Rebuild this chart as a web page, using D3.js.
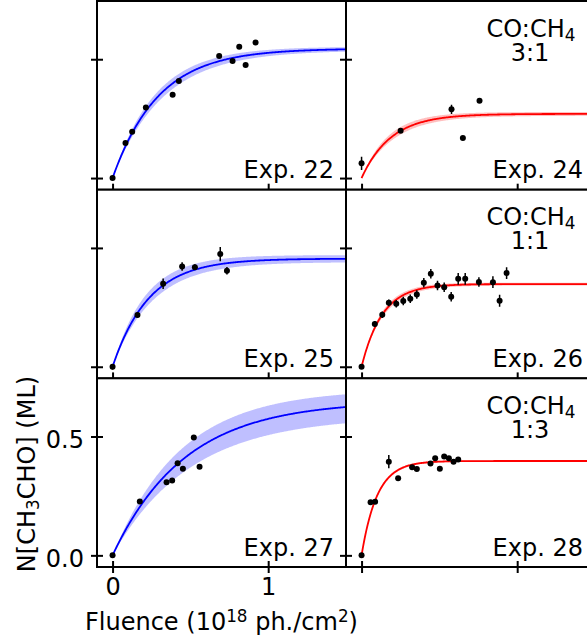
<!DOCTYPE html>
<html><head><meta charset="utf-8">
<script src="https://cdn.jsdelivr.net/npm/d3@7"></script>
<style>body{margin:0;background:#fff}svg{display:block}text{font-family:"DejaVu Sans",sans-serif;fill:#000}</style>
</head><body><svg id="c" width="587" height="643"></svg>
<script>
// ---- data ----
const expLabels = ["Exp. 22", "Exp. 24", "Exp. 25", "Exp. 26", "Exp. 27", "Exp. 28"];
const ratioLabels = ["3:1", "1:1", "1:3"];

const exp22X = [0, 0.083, 0.126, 0.214, 0.386, 0.426, 0.685, 0.771, 0.814, 0.855, 0.919];
const exp22Y = [0, 0.148, 0.195, 0.297, 0.350, 0.408, 0.514, 0.493, 0.553, 0.476, 0.570];
const exp22Err = [0.004, 0.005, 0.005, 0.005, 0.006, 0.006, 0.006, 0.006, 0.006, 0.006, 0.006];

const exp24X = [0, 0.251, 0.578, 0.651, 0.758];
const exp24Y = [0.062, 0.199, 0.289, 0.169, 0.325];
const exp24Err = [0.028, 0.008, 0.019, 0.008, 0.008];

const exp25X = [0, 0.160, 0.325, 0.447, 0.529, 0.692, 0.735];
const exp25Y = [0, 0.218, 0.349, 0.422, 0.419, 0.474, 0.404];
const exp25Err = [0.012, 0.012, 0.022, 0.018, 0.012, 0.03, 0.016];

const exp26X = [0, 0.085, 0.133, 0.175, 0.223, 0.268, 0.313, 0.355, 0.400, 0.445, 0.488, 0.531, 0.576, 0.621, 0.666, 0.754, 0.844, 0.887, 0.932];
const exp26Y = [0, 0.180, 0.219, 0.269, 0.265, 0.277, 0.286, 0.304, 0.353, 0.391, 0.342, 0.335, 0.295, 0.370, 0.370, 0.357, 0.356, 0.278, 0.394];
const exp26Err = [0.008, 0.012, 0.014, 0.014, 0.016, 0.018, 0.018, 0.018, 0.02, 0.02, 0.02, 0.02, 0.02, 0.025, 0.025, 0.02, 0.025, 0.025, 0.025];

const exp27X = [0, 0.175, 0.347, 0.383, 0.418, 0.452, 0.522, 0.559];
const exp27Y = [0, 0.227, 0.308, 0.315, 0.388, 0.364, 0.496, 0.373];
const exp27Err = [0.004, 0.006, 0.006, 0.008, 0.006, 0.006, 0.006, 0.006];

const exp28X = [0, 0.058, 0.087, 0.175, 0.235, 0.325, 0.355, 0.443, 0.473, 0.503, 0.531, 0.561, 0.591, 0.621];
const exp28Y = [0, 0.223, 0.226, 0.394, 0.324, 0.371, 0.363, 0.387, 0.409, 0.364, 0.416, 0.409, 0.394, 0.403];
const exp28Err = [0.004, 0.008, 0.008, 0.028, 0.008, 0.008, 0.008, 0.008, 0.008, 0.008, 0.008, 0.008, 0.008, 0.008];

// fitted saturation curves N = A (1 - exp(-k F)), and the band limits
const fitAmp    = [0.545, 0.270, 0.455, 0.348, 0.650, 0.397];
const fitRate   = [3.4,   5.3,   4.3,   7.5,   2.15,  10.0];
const bandAmpHi = [0.553, 0.278, 0.470, 0.354, 0.700, 0.400];
const bandRateHi= [3.7,   5.9,   4.8,   8.0,   2.3,   10.3];
const bandAmpLo = [0.537, 0.262, 0.440, 0.342, 0.585, 0.394];
const bandRateLo= [3.1,   4.8,   3.9,   7.0,   2.0,   9.7];

const xTicks = [0, 1];
const xTickLabels = ["0", "1"];
const yTicks = [0, 0.5];
const yTickLabels = ["0.0", "0.5"];
const xDomain = [-0.1, 1.5];
const yDomain = [-0.049, 0.745];

// ---- layout ----
const svg = d3.select("#c");
const colLeft = [97, 346], colW = 249;
const rowTop = [1, 189.7, 378.3], rowH = 188.7;
const FS = 24;

const seriesX = [exp22X, exp24X, exp25X, exp26X, exp27X, exp28X];
const seriesY = [exp22Y, exp24Y, exp25Y, exp26Y, exp27Y, exp28Y];
const seriesE = [exp22Err, exp24Err, exp25Err, exp26Err, exp27Err, exp28Err];

const model = (A, k) => f => A * (1 - Math.exp(-k * f));
const grid = d3.range(0, 1.5001, 0.005);

svg.append("rect").attr("width", 587).attr("height", 643).attr("fill", "#fff");
const defs = svg.append("defs");

for (let i = 0; i < 6; i++) {
  const row = Math.floor(i / 2), col = i % 2;
  const x0 = colLeft[col], y0 = rowTop[row];
  const xs = d3.scaleLinear().domain(xDomain).range([x0, x0 + colW]);
  const ys = d3.scaleLinear().domain(yDomain).range([y0 + rowH, y0]);
  const color = col === 0 ? "#0000ff" : "#ff0000";
  const showLabels = (row === 2 && col === 0);
  const g = svg.append("g");
  defs.append("clipPath").attr("id", "clip" + i).append("rect")
    .attr("x", x0).attr("y", y0).attr("width", colW).attr("height", rowH);
  g.append("rect").attr("x", x0).attr("y", y0).attr("width", colW).attr("height", rowH).attr("fill", "#fff");
  const inner = g.append("g").attr("clip-path", `url(#clip${i})`);

  const hi = model(bandAmpHi[i], bandRateHi[i]), lo = model(bandAmpLo[i], bandRateLo[i]);
  const area = d3.area().x(d => xs(d)).y0(d => ys(Math.min(lo(d), hi(d)))).y1(d => ys(Math.max(lo(d), hi(d))));
  inner.append("path").datum(grid).attr("d", area).attr("fill", color).attr("fill-opacity", 0.25);
  const fit = model(fitAmp[i], fitRate[i]);
  inner.append("path").datum(grid).attr("d", d3.line().x(d => xs(d)).y(d => ys(fit(d))))
    .attr("fill", "none").attr("stroke", color).attr("stroke-width", 1.8);

  const pts = seriesX[i].map((v, j) => ({x: v, y: seriesY[i][j], e: seriesE[i][j]}));
  inner.selectAll("line.err").data(pts).join("line")
    .attr("x1", d => xs(d.x)).attr("x2", d => xs(d.x))
    .attr("y1", d => ys(d.y - d.e)).attr("y2", d => ys(d.y + d.e))
    .attr("stroke", "#000").attr("stroke-width", 1.5);
  inner.selectAll("circle").data(pts).join("circle")
    .attr("cx", d => xs(d.x)).attr("cy", d => ys(d.y)).attr("r", 3).attr("fill", "#000");

  // experiment label
  g.append("text").attr("x", x0 + colW - 12).attr("y", y0 + rowH - 11.5)
    .attr("text-anchor", "end").attr("font-size", FS).text(expLabels[i]);

  if (col === 1) {
    const t = g.append("text").attr("x", x0 + 185).attr("y", y0 + 35.5)
      .attr("text-anchor", "middle").attr("font-size", FS);
    t.append("tspan").text("CO:CH");
    t.append("tspan").attr("font-size", FS * 0.7).attr("dy", 4).text("4");
    t.append("tspan").attr("x", x0 + 184).attr("dy", 20).text(ratioLabels[row]);
  }

  // spines
  g.append("rect").attr("x", x0).attr("y", y0).attr("width", colW).attr("height", rowH)
    .attr("fill", "none").attr("stroke", "#000").attr("stroke-width", 2);

  // ticks (inout)
  const xAx = d3.axisBottom(xs).tickValues(xTicks).tickSizeInner(6).tickSizeOuter(0)
    .tickFormat((d, j) => showLabels ? xTickLabels[j] : "");
  const xg = g.append("g").attr("transform", `translate(0,${y0 + rowH})`).call(xAx);
  xg.select(".domain").remove();
  xg.selectAll(".tick line").attr("y1", -6).attr("y2", 6).attr("stroke", "#000").attr("stroke-width", 2);
  xg.selectAll(".tick text").attr("font-size", FS).attr("font-family", "DejaVu Sans").attr("fill", "#000").attr("y", 11).attr("dy", "0.71em");

  const yAx = d3.axisLeft(ys).tickValues(yTicks).tickSizeInner(6).tickSizeOuter(0)
    .tickFormat((d, j) => showLabels ? yTickLabels[j] : "");
  const yg = g.append("g").attr("transform", `translate(${x0},0)`).call(yAx);
  yg.select(".domain").remove();
  yg.selectAll(".tick line").attr("x1", -6).attr("x2", 6).attr("stroke", "#000").attr("stroke-width", 2);
  yg.selectAll(".tick text").attr("font-size", FS).attr("font-family", "DejaVu Sans").attr("fill", "#000")
    .attr("x", -13).attr("dy", "0.45em");
}

// axis titles
const yl = svg.append("text").attr("transform", "translate(35,474) rotate(-90)")
  .attr("text-anchor", "middle").attr("font-size", FS);
yl.append("tspan").text("N[CH");
yl.append("tspan").attr("font-size", FS * 0.7).attr("dy", 4).text("3");
yl.append("tspan").attr("dy", -4).text("CHO] (ML)");

const xl = svg.append("text").attr("x", 221.5).attr("y", 630)
  .attr("text-anchor", "middle").attr("font-size", FS);
xl.append("tspan").text("Fluence (10");
xl.append("tspan").attr("font-size", FS * 0.7).attr("dy", -8).text("18");
xl.append("tspan").attr("dy", 8).text(" ph./cm");
xl.append("tspan").attr("font-size", FS * 0.7).attr("dy", -8).text("2");
xl.append("tspan").attr("dy", 8).text(")");
</script></body></html>
